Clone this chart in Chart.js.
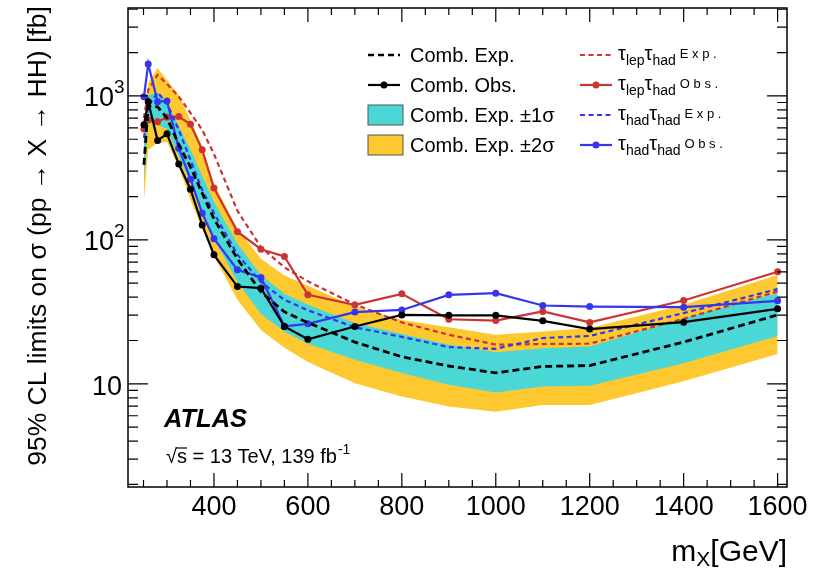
<!DOCTYPE html>
<html>
<head>
<meta charset="utf-8">
<script src="https://cdn.jsdelivr.net/npm/chart.js@4.4.1/dist/chart.umd.min.js"></script>
<style>
  html, body { margin: 0; padding: 0; background: #fff; }
  #wrap { width: 824px; height: 568px; }
</style>
</head>
<body>
<div id="wrap"><canvas id="limits" width="824" height="568"></canvas></div>
<script>
// Resonance masses [GeV]
const masses = [251, 260, 280, 300, 325, 350, 375, 400, 450, 500, 550, 600, 700, 800, 900, 1000, 1100, 1200, 1400, 1600];

// Combined limits [fb]
const combExp = [332, 850, 839, 703, 460, 321, 211, 140, 73.8, 43.5, 31.6, 26.6, 19.5, 15.4, 13.3, 11.9, 13.2, 13.4, 19.5, 30.1];
const combObs = [630, 912, 490, 545, 337, 225, 127, 78.7, 47.4, 46.2, 25.0, 20.4, 25.0, 30.1, 29.9, 29.9, 27.4, 24.0, 26.8, 33.2];
const combUp2 = [659, 1230, 1563, 1292, 1016, 681, 445, 245, 120, 74, 56.5, 48.0, 34.4, 27.8, 24.7, 21.9, 23.1, 24.4, 35.4, 57.1];
const combUp1 = [511, 1016, 1050, 893, 620, 425, 279, 184, 94, 57, 42.2, 35.4, 26.5, 22.2, 18.7, 16.6, 17.7, 18.2, 28.6, 42.7];
const combDn1 = [261, 649, 630, 590, 380, 250, 160, 103, 51, 30.6, 23.0, 19.0, 14.7, 11.9, 9.84, 8.7, 9.58, 9.69, 13.9, 21.5];
const combDn2 = [190, 422, 470, 480, 320, 190, 120, 77, 38.3, 23.7, 17.8, 14.2, 10.1, 8.17, 6.95, 6.4, 7.14, 7.14, 10.4, 16.1];

// Single-channel limits [fb]
const lepHadExp = [700, 1100, 1400, 1210, 990, 762, 581, 395, 159, 89, 64.4, 51.5, 35.6, 26.7, 21.9, 18.7, 18.9, 19.0, 28.3, 43.8];
const lepHadObs = [588, 680, 662, 711, 718, 636, 422, 229, 114, 86.1, 76.6, 41.5, 35.4, 42.2, 28.1, 27.5, 31.8, 26.7, 37.9, 60.0];
const hadHadExp = [510, 850, 1055, 889, 581, 359, 222, 153, 79, 51, 38.3, 32.4, 24.7, 21.2, 18.0, 17.5, 20.8, 21.5, 31.0, 45.5];
const hadHadObs = [988, 1667, 912, 922, 433, 264, 153, 102, 61.9, 54.8, 25.1, 26.1, 31.5, 32.6, 41.5, 42.6, 35.0, 34.4, 34.1, 37.7];

// Axes
const xMin = 217, xMax = 1620, xMinorStep = 50;
const xTicks = [400, 600, 800, 1000, 1200, 1400, 1600];
const yMin = 1.92, yMax = 4080;
const yTicks = [10, 100, 1000];
const yTickExp = ['', '2', '3'];

const FONT = '"Liberation Sans", Arial, Helvetica, sans-serif';
const YELLOW = '#fec930';
const CYAN = '#4bd7d6';
const RED = '#cc3333';
const BLUE = '#3535ee';

function pts(vals) {
    return masses.map((m, i) => ({ x: m, y: vals[i] }));
}

function band(vals, color, fill, order) {
    return {
        data: pts(vals), fill: fill, backgroundColor: color,
        borderWidth: 0, borderColor: 'rgba(0,0,0,0)', pointRadius: 0, order: order
    };
}

function curve(vals, color, dash, order, width) {
    return {
        data: pts(vals), fill: false, borderColor: color, backgroundColor: color,
        borderWidth: width || 2.2, borderDash: dash || [],
        pointRadius: dash ? 0 : 3.5, pointBorderWidth: 0, pointBackgroundColor: color,
        order: order
    };
}

function text(ctx, s, x, y, size, opts) {
    opts = opts || {};
    ctx.font = (opts.style || '') + ' ' + size + 'px ' + FONT;
    ctx.textAlign = opts.align || 'left';
    ctx.textBaseline = 'alphabetic';
    ctx.fillStyle = '#000';
    ctx.fillText(s, x, y);
    return ctx.measureText(s).width;
}

function tauLabel(ctx, x, y, sub1, sub2, tag) {
    let cx = x;
    cx += text(ctx, 'τ', cx, y, 20);
    cx += text(ctx, sub1, cx, y + 5, 14);
    cx += text(ctx, 'τ', cx, y, 20);
    cx += text(ctx, sub2, cx, y + 5, 14);
    text(ctx, tag, cx + 4, y - 2, 13);
}

const atlasFrame = {
    id: 'atlasFrame',
    afterDraw(chart) {
        const ctx = chart.ctx, a = chart.chartArea;
        const sx = chart.scales.x, sy = chart.scales.y;
        ctx.save();

        // frame
        ctx.strokeStyle = '#000';
        ctx.lineWidth = 1.5;
        ctx.setLineDash([]);
        ctx.strokeRect(a.left, a.top, a.right - a.left, a.bottom - a.top);

        // x ticks (bottom and top)
        ctx.lineWidth = 1.2;
        ctx.beginPath();
        for (let v = Math.ceil(xMin / xMinorStep) * xMinorStep; v <= xMax; v += xMinorStep) {
            const px = sx.getPixelForValue(v);
            const len = xTicks.includes(v) ? 14 : 7;
            ctx.moveTo(px, a.bottom); ctx.lineTo(px, a.bottom - len);
            ctx.moveTo(px, a.top); ctx.lineTo(px, a.top + len);
        }
        // y ticks (left and right)
        for (let d = 0; d <= 3; d++) {
            for (let k = 1; k <= 9; k++) {
                const v = k * Math.pow(10, d);
                if (v < yMin || v > yMax) continue;
                const py = sy.getPixelForValue(v);
                const len = k === 1 ? 20 : 10;
                ctx.moveTo(a.left, py); ctx.lineTo(a.left + len, py);
                ctx.moveTo(a.right, py); ctx.lineTo(a.right - len, py);
            }
        }
        ctx.stroke();

        // tick labels
        xTicks.forEach(v => text(ctx, String(v), sx.getPixelForValue(v), 515, 27, { align: 'center' }));
        yTicks.forEach((v, i) => {
            const py = sy.getPixelForValue(v);
            if (yTickExp[i]) {
                text(ctx, '10', 114, py + 10, 27, { align: 'right' });
                text(ctx, yTickExp[i], 114, py - 3, 19);
            } else {
                text(ctx, '10', 122, py + 11, 27, { align: 'right' });
            }
        });

        // axis titles
        ctx.save();
        ctx.translate(46, 236);
        ctx.rotate(-Math.PI / 2);
        text(ctx, '95% CL limits on σ (pp → X → HH) [fb]', 0, 0, 26.5, { align: 'center' });
        ctx.restore();
        let tx = 787;
        const gev = '[GeV]';
        ctx.font = '30px ' + FONT;
        tx -= ctx.measureText(gev).width;
        text(ctx, gev, tx, 561, 30);
        ctx.font = '21px ' + FONT;
        tx -= ctx.measureText('X').width;
        text(ctx, 'X', tx, 566, 21);
        ctx.font = '30px ' + FONT;
        tx -= ctx.measureText('m').width;
        text(ctx, 'm', tx, 561, 30);

        // ATLAS label
        text(ctx, 'ATLAS', 164, 427, 25.5, { style: 'italic bold' });
        let sxp = 166;
        sxp += text(ctx, '√', sxp, 463, 20);
        const sw = text(ctx, 's', sxp, 463, 20);
        ctx.lineWidth = 1.2;
        ctx.beginPath();
        ctx.moveTo(sxp - 1, 448); ctx.lineTo(sxp + sw, 448);
        ctx.stroke();
        sxp += sw;
        sxp += text(ctx, ' = 13 TeV, 139 fb', sxp, 463, 20);
        text(ctx, '-1', sxp + 1, 454, 14);

        // legend, left column
        const rows = [55, 85, 115, 145];
        ctx.strokeStyle = '#000';
        ctx.lineWidth = 2.5;
        ctx.setLineDash([6, 4]);
        ctx.beginPath(); ctx.moveTo(368, rows[0]); ctx.lineTo(400, rows[0]); ctx.stroke();
        ctx.setLineDash([]);
        ctx.lineWidth = 2.2;
        ctx.beginPath(); ctx.moveTo(368, rows[1]); ctx.lineTo(400, rows[1]); ctx.stroke();
        ctx.fillStyle = '#000';
        ctx.beginPath(); ctx.arc(384, rows[1], 3.5, 0, 2 * Math.PI); ctx.fill();
        [[CYAN, rows[2]], [YELLOW, rows[3]]].forEach(([c, ry]) => {
            ctx.fillStyle = c;
            ctx.fillRect(368, ry - 10, 35, 20);
            ctx.strokeStyle = '#555';
            ctx.lineWidth = 1;
            ctx.strokeRect(368, ry - 10, 35, 20);
        });
        const leftLabels = ['Comb. Exp.', 'Comb. Obs.', 'Comb. Exp. ±1σ', 'Comb. Exp. ±2σ'];
        leftLabels.forEach((s, i) => text(ctx, s, 410, rows[i] + 7, 20));

        // legend, right column
        const rightItems = [
            [RED, true, 'lep', 'had', 'E x p .'],
            [RED, false, 'lep', 'had', 'O b s .'],
            [BLUE, true, 'had', 'had', 'E x p .'],
            [BLUE, false, 'had', 'had', 'O b s .']
        ];
        rightItems.forEach(([c, dashed, s1, s2, tag], i) => {
            const ry = rows[i];
            ctx.strokeStyle = c;
            ctx.lineWidth = 2.2;
            ctx.setLineDash(dashed ? [5, 3.5] : []);
            ctx.beginPath(); ctx.moveTo(580, ry); ctx.lineTo(612, ry); ctx.stroke();
            ctx.setLineDash([]);
            if (!dashed) {
                ctx.fillStyle = c;
                ctx.beginPath(); ctx.arc(596, ry, 3.5, 0, 2 * Math.PI); ctx.fill();
            }
            tauLabel(ctx, 618, ry + 5, s1, s2, tag);
        });

        ctx.restore();
    }
};

new Chart(document.getElementById('limits'), {
    type: 'line',
    data: {
        datasets: [
            band(combUp2, YELLOW, '+1', 20),
            band(combDn2, YELLOW, false, 20),
            band(combUp1, CYAN, '+1', 19),
            band(combDn1, CYAN, false, 19),
            curve(lepHadExp, RED, [5, 3.5], 6),
            curve(lepHadObs, RED, null, 5),
            curve(hadHadExp, BLUE, [5, 3.5], 4),
            curve(hadHadObs, BLUE, null, 3),
            curve(combExp, '#000', [7, 4], 2, 2.8),
            curve(combObs, '#000', null, 1)
        ]
    },
    options: {
        responsive: false,
        animation: false,
        devicePixelRatio: 1,
        layout: { padding: { left: 128, top: 8, right: 37, bottom: 81 } },
        elements: { line: { tension: 0 } },
        plugins: { legend: { display: false }, tooltip: { enabled: false } },
        scales: {
            x: { type: 'linear', min: xMin, max: xMax, display: false },
            y: { type: 'logarithmic', min: yMin, max: yMax, display: false }
        }
    },
    plugins: [atlasFrame]
});
</script>
</body>
</html>
